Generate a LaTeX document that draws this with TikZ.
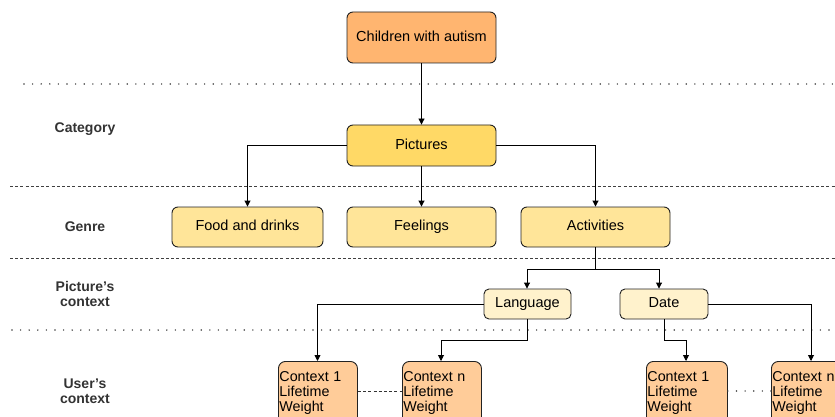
\documentclass[tikz,border=0pt]{standalone}
\usepackage{fontspec}
\setmainfont{Liberation Sans}
\usetikzlibrary{arrows.meta}
\definecolor{cOrange}{HTML}{FFB570}
\definecolor{cGold}{HTML}{FFD966}
\definecolor{cYel}{HTML}{FFE599}
\definecolor{cPale}{HTML}{FFF2CC}
\definecolor{cCtx}{HTML}{FFCC99}
\definecolor{cLine}{HTML}{222222}
\begin{document}
\begin{tikzpicture}[x=1pt,y=-1pt,
  box/.style={draw=cLine,line width=0.9pt,rounded corners=6pt,minimum width=#1,inner sep=0pt,align=center,text height=10.5pt,text depth=3pt,font=\fontsize{14.5}{16}\selectfont},
  box/.default=149pt,
  ctx/.style={draw=cLine,line width=0.9pt,rounded corners=7pt,fill=cCtx,minimum height=64pt,inner xsep=1pt,inner ysep=1.5pt,text width=#1,align=left,anchor=north west,font=\fontsize{14.3}{15}\selectfont},
  ctx/.default=77pt,
  lab/.style={font=\bfseries\fontsize{14}{15}\selectfont,text=black!80,align=center},
  arr/.style={draw=black,line width=0.9pt,-{Triangle[length=6pt,width=6pt]}},
  sep dot/.style={line width=1.6pt,dash pattern=on 0pt off 8.6pt,line cap=round,black!75},
  sep dash/.style={line width=0.8pt,dash pattern=on 3pt off 2.2pt,black!75}]
\clip (0,0) rectangle (835,417);
\fill[white] (0,0) rectangle (835,417);
% separators
\draw[sep dot] (24,84) -- (835,84);
\draw[sep dash] (10,186) -- (835,186);
\draw[sep dash] (10,258) -- (835,258);
\draw[sep dot] (12,330) -- (835,330);
% row labels
\node[lab] (lcat) at (85,129) {Category};
\node[lab] (lgen) at (85,227) {Genre};
\node[lab] (lpic) at (85,294) {Picture's\\context};
\node[lab] (lusr) at (85,391) {User's\\context};
% nodes
\node[box,fill=cOrange,minimum height=51pt] (root) at (421.5,37.5) {Children with autism};
\node[box,fill=cGold,minimum height=41pt] (pics) at (421.5,145.5) {Pictures};
\node[box,fill=cYel,minimum height=40pt,minimum width=151pt] (food) at (247.5,227) {Food and drinks};
\node[box,fill=cYel,minimum height=40pt] (feel) at (421.5,227) {Feelings};
\node[box,fill=cYel,minimum height=40pt] (act) at (595.5,227) {Activities};
\node[box,fill=cPale,minimum height=30pt,minimum width=87pt,rounded corners=5pt] (lang) at (527.5,304) {Language};
\node[box,fill=cPale,minimum height=30pt,minimum width=88pt,rounded corners=5pt] (date) at (664,304) {Date};
\node[ctx] (c1) at (278,361) {Context 1\\Lifetime\\Weight};
\node[ctx] (cn) at (402,361) {Context n\\Lifetime\\Weight};
\node[ctx=79pt] (d1) at (646,361) {Context 1\\Lifetime\\Weight};
\node[ctx] (dn) at (771,361) {Context n\\Lifetime\\Weight};
% connectors
\draw[arr] (root.south) -- (pics.north);
\draw[arr] (pics.west) -| (food.north);
\draw[arr] (pics.south) -- (feel.north);
\draw[arr] (pics.east) -| (act.north);
\coordinate (aj) at ([yshift=-22pt]act.south);
\draw[arr] (act.south) -- (aj) -| ([xshift=-0.5pt]lang.north);
\draw[arr] (aj) -| ([xshift=-5pt]date.north);
\draw[arr] (lang.west) -| ([xshift=39.5pt]c1.north west);
\coordinate (lj) at ([yshift=-21pt]lang.south);
\draw[arr] (lang.south) -- (lj) -| ([xshift=39pt]cn.north west);
\coordinate (dj) at ([yshift=-21pt]date.south);
\draw[arr] (date.south) -- (dj) -| ([xshift=40pt]d1.north west);
\draw[arr] (date.east) -| ([xshift=40pt]dn.north west);
\draw[sep dash,black!80] (c1.east |- 0,391) -- (cn.west |- 0,391);
\draw[sep dot] (d1.east |- 0,391) -- (dn.west |- 0,391);
\end{tikzpicture}
\end{document}
